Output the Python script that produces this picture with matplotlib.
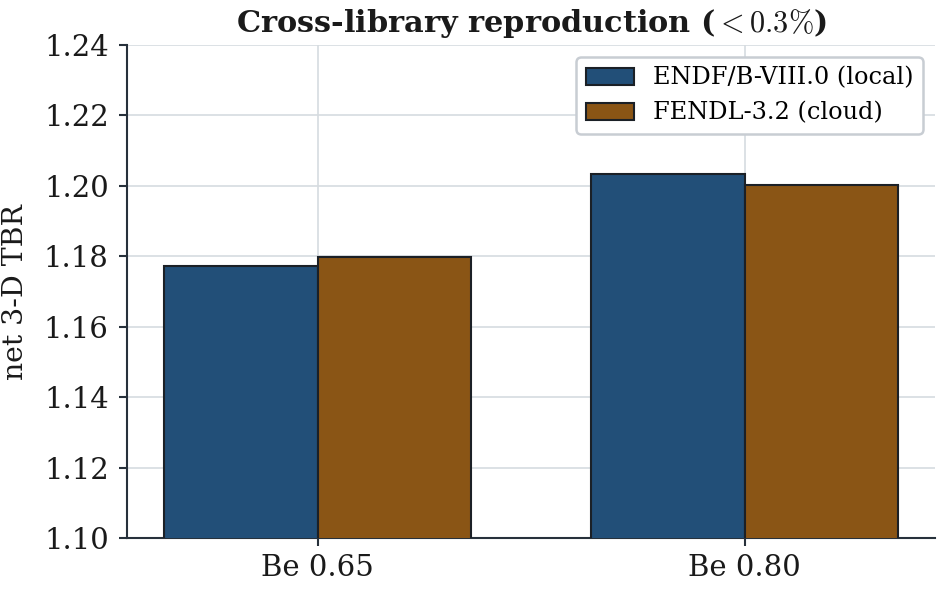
import matplotlib
matplotlib.use("Agg")
import matplotlib.pyplot as plt
import numpy as np

plt.rcParams['font.family'] = ['DejaVu Serif']
plt.rcParams['mathtext.fontset'] = 'cm'

# data
cases = ['Be 0.65', 'Be 0.80']
tbr_endf = [1.1772, 1.2034]
tbr_fendl = [1.1799, 1.2003]
labels = ['ENDF/B-VIII.0 (local)', 'FENDL-3.2 (cloud)']

c_blue = '#224f78'
c_brown = '#8a5515'
dark = '#27313b'

fig, ax = plt.subplots(figsize=(940 / 150, 592 / 150), dpi=150)
fig.subplots_adjust(left=0.1356, right=0.9947, top=0.924, bottom=0.0907)

x = np.arange(len(cases))
w = 0.36
ax.bar(x - w / 2, tbr_endf, w, color=c_blue, edgecolor='#1b2026', linewidth=1.0,
       label=labels[0], zorder=3)
ax.bar(x + w / 2, tbr_fendl, w, color=c_brown, edgecolor='#1b2026', linewidth=1.0,
       label=labels[1], zorder=3)

ax.set_ylim(1.10, 1.24)
ax.set_yticks(np.arange(1.10, 1.2401, 0.02))
ax.set_xticks(x)
ax.set_xticklabels(cases)
ax.tick_params(labelsize=14, length=4, width=1.0, color=dark, labelcolor='#1a1a1a')
ax.tick_params(axis='y', pad=5)

ax.set_ylabel('net 3-D TBR', fontsize=13.6, color='#1a1a1a', labelpad=7)
ax.set_title(r'Cross-library reproduction ($<0.3\%$)', fontsize=14.6,
             fontweight='bold', color='#1a1a1a')

ax.grid(True, color='#d6dbe0', linewidth=0.8, zorder=0)
ax.set_axisbelow(True)
for s in ['top', 'right']:
    ax.spines[s].set_visible(False)
for s in ['left', 'bottom']:
    ax.spines[s].set_color(dark)
    ax.spines[s].set_linewidth(1.0)

leg = ax.legend(loc='upper right', fontsize=11.5, frameon=True, fancybox=True,
                edgecolor='#c8cdd3', framealpha=1.0, handlelength=2.0)
leg.get_frame().set_linewidth(1.2)

fig.savefig('out.png', dpi=150)
